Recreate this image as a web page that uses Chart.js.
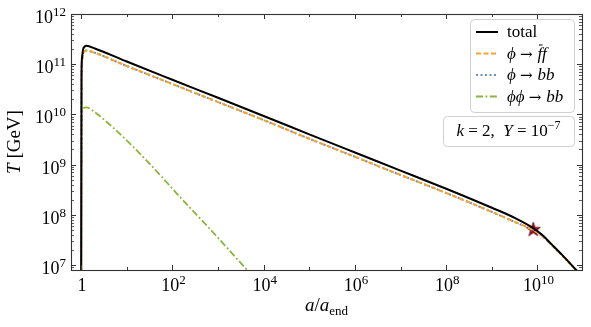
<!DOCTYPE html>
<html>
<head>
<meta charset="utf-8">
<script src="https://cdn.jsdelivr.net/npm/chart.js@4.4.1/dist/chart.umd.min.js"></script>
<style>
  html, body { margin: 0; padding: 0; background: #fff; }
  #wrap { width: 591px; height: 327px; position: relative; }
</style>
</head>
<body>
<div id="wrap"><canvas id="tempChart"></canvas></div>
<script>
// scale factor a/a_end for the main curves
const aMain = [1.0, 1.02, 1.05, 1.1, 1.2, 1.31, 2, 10, 1e2, 1e3, 1e4, 1e5, 1e6, 1e7, 1e8, 1e9, 3.16e9, 7.9e9, 1.26e10, 2e10, 3.55e10, 7.1e10, 1e11];
// T [GeV]
const totalT = [1e6, 6e10, 1.4e11, 1.95e11, 2.25e11, 2.32e11, 2.06e11, 1.13e11, 4.9e10, 2.14e10, 9.3e9, 4.0e9, 1.74e9, 7.6e8, 3.3e8, 1.38e8, 8.7e7, 5.5e7, 4.0e7, 2.63e7, 1.55e7, 7.9e6, 5.75e6];
const phiFFT = [1e6, 5e10, 1.15e11, 1.6e11, 1.84e11, 1.87e11, 1.68e11, 9.2e10, 4.03e10, 1.76e10, 7.7e9, 3.27e9, 1.43e9, 6.2e8, 2.72e8, 1.14e8, 7.2e7, 5.0e7, 3.8e7, 2.55e7, 1.52e7, 7.8e6, 5.7e6];
const phiBBT = [1e6, 5e10, 1.15e11, 1.6e11, 1.84e11, 1.87e11, 1.68e11, 9.2e10, 4.03e10, 1.76e10, 7.7e9, 3.27e9, 1.43e9, 6.2e8, 2.72e8, 1.14e8, 7.2e7, 5.0e7, 3.8e7, 2.55e7, 1.52e7, 7.8e6, 5.7e6];

const aGreen = [1.0, 1.02, 1.05, 1.1, 1.31, 2, 5.25, 28, 148, 794, 3630, 1e4];
const phiPhiT = [1e6, 6e9, 1.1e10, 1.3e10, 1.38e10, 1.1e10, 5.25e9, 1.17e9, 2.24e8, 4.37e7, 9.5e6, 3.5e6];

// marker (end of reheating)
const starA = [8.1e9];
const starT = [5.15e7];

// axis ticks
const xMajorExp = [0, 2, 4, 6, 8, 10];
const xMinorExp = [1, 3, 5, 7, 9];
const yMajorExp = [7, 8, 9, 10, 11, 12];

const SERIF = '"Liberation Serif", "DejaVu Serif", serif';
const ARROWF = '15px "DejaVu Serif", serif';
const cTotal = '#000000';
const cFF = '#f2a431';
const cBB = '#6b8fc6';
const cPP = '#8db43b';
const cFrame = '#333333';
const dashFF = [5, 2.5];
const dashBB = [2, 2.5];
const dashPP = [7, 2.5, 1.8, 2.5];

const pts = (xs, ys) => xs.map((x, i) => ({ x: x, y: ys[i] }));

// filled 5-point star marker
const starImg = document.createElement('canvas');
starImg.width = 16; starImg.height = 16;
(function () {
  const c = starImg.getContext('2d');
  c.beginPath();
  for (let i = 0; i < 10; i++) {
    const r = i % 2 === 0 ? 7.5 : 2.9;
    const ang = -Math.PI / 2 + i * Math.PI / 5;
    c.lineTo(8 + r * Math.cos(ang), 8.5 + r * Math.sin(ang));
  }
  c.closePath();
  c.fillStyle = '#a3101a';
  c.fill();
  c.strokeStyle = '#6a0008';
  c.lineWidth = 0.8;
  c.stroke();
})();

// draw a run of text pieces: [text, font, dy, bar]
function drawRun(ctx, pieces, x, y, align) {
  let total = 0;
  pieces.forEach(p => { ctx.font = p[1]; total += ctx.measureText(p[0]).width; });
  let cx = align === 'right' ? x - total : align === 'center' ? x - total / 2 : x;
  ctx.textAlign = 'left';
  ctx.textBaseline = 'alphabetic';
  pieces.forEach(p => {
    ctx.font = p[1];
    const w = ctx.measureText(p[0]).width;
    ctx.fillText(p[0], cx, y + (p[2] || 0));
    if (p[3]) {
      ctx.beginPath();
      ctx.lineWidth = 1;
      ctx.moveTo(cx + 1.5, y - 13.5);
      ctx.lineTo(cx + w + 0.5, y - 13.5);
      ctx.stroke();
    }
    cx += w;
  });
}

function pow10(exp) {
  if (exp === 0) return [['1', '18px ' + SERIF]];
  return [['10', '18px ' + SERIF], [String(exp).replace('-', '\u2212'), '13px ' + SERIF, -7]];
}

function roundRect(ctx, x, y, w, h, r) {
  ctx.beginPath();
  ctx.moveTo(x + r, y);
  ctx.arcTo(x + w, y, x + w, y + h, r);
  ctx.arcTo(x + w, y + h, x, y + h, r);
  ctx.arcTo(x, y + h, x, y, r);
  ctx.arcTo(x, y, x + w, y, r);
  ctx.closePath();
}

const axesPlugin = {
  id: 'axesPlugin',
  afterDatasetsDraw(chart) {
    const ctx = chart.ctx;
    const area = chart.chartArea;
    const xs = chart.scales.x, ys = chart.scales.y;
    ctx.save();
    ctx.strokeStyle = cFrame;
    ctx.fillStyle = '#000';

    // ticks, pointing inward on all four sides
    const tick = (px, len, horiz) => {
      ctx.beginPath();
      if (horiz) {
        ctx.moveTo(Math.round(px) + 0.5, area.bottom); ctx.lineTo(Math.round(px) + 0.5, area.bottom - len);
        ctx.moveTo(Math.round(px) + 0.5, area.top); ctx.lineTo(Math.round(px) + 0.5, area.top + len);
      } else {
        ctx.moveTo(area.left, Math.round(px) + 0.5); ctx.lineTo(area.left + len, Math.round(px) + 0.5);
        ctx.moveTo(area.right, Math.round(px) + 0.5); ctx.lineTo(area.right - len, Math.round(px) + 0.5);
      }
      ctx.stroke();
    };
    ctx.lineWidth = 1;
    xMajorExp.forEach(e => tick(xs.getPixelForValue(Math.pow(10, e)), 5, true));
    xMinorExp.forEach(e => tick(xs.getPixelForValue(Math.pow(10, e)), 3, true));
    ctx.lineWidth = 0.8;
    for (let e = 6; e <= 12; e++) {
      for (let m = 2; m <= 9; m++) {
        const v = m * Math.pow(10, e);
        if (v > ys.min && v < ys.max) tick(ys.getPixelForValue(v), 3, false);
      }
    }
    ctx.lineWidth = 1;
    yMajorExp.forEach(e => tick(ys.getPixelForValue(Math.pow(10, e)), 5, false));

    // frame
    ctx.lineWidth = 1.1;
    ctx.strokeRect(area.left + 0.5, area.top + 0.5, area.right - area.left, area.bottom - area.top);

    // tick labels
    xMajorExp.forEach(e => drawRun(ctx, pow10(e), xs.getPixelForValue(Math.pow(10, e)) + 1, area.bottom + 21, 'center'));
    yMajorExp.forEach(e => drawRun(ctx, pow10(e), area.left - 5, ys.getPixelForValue(Math.pow(10, e)) + 9, 'right'));

    // axis titles
    drawRun(ctx, [['a', 'italic 19px ' + SERIF], ['/', '19px ' + SERIF], ['a', 'italic 19px ' + SERIF], ['end', '13px ' + SERIF, 4]], (area.left + area.right) / 2, 311, 'center');
    ctx.save();
    ctx.translate(20, (area.top + area.bottom) / 2);
    ctx.rotate(-Math.PI / 2);
    drawRun(ctx, [['T', 'italic 19px ' + SERIF], [' [GeV]', '19px ' + SERIF]], 0, 0, 'center');
    ctx.restore();

    // legend
    const lx = 470, ly = 19, lw = 104, lh = 93;
    roundRect(ctx, lx + 0.5, ly + 0.5, lw, lh, 4);
    ctx.fillStyle = 'rgba(255,255,255,0.85)';
    ctx.fill();
    ctx.strokeStyle = '#d0d0d0';
    ctx.lineWidth = 1;
    ctx.stroke();
    const it = 'italic 17px ' + SERIF;
    const entries = [
      { color: cTotal, dash: [], w: 2, text: [['total', '17px ' + SERIF]] },
      { color: cFF, dash: dashFF, w: 1.8, text: [['\u03d5 ', it], ['\u2192 ', ARROWF], ['f', it, 0, true], ['f', it]] },
      { color: cBB, dash: dashBB, w: 1.8, text: [['\u03d5 ', it], ['\u2192 ', ARROWF], ['bb', it]] },
      { color: cPP, dash: dashPP, w: 1.8, text: [['\u03d5\u03d5 ', it], ['\u2192 ', ARROWF], ['bb', it]] }
    ];
    entries.forEach((en, i) => {
      const yy = 32 + i * 21.5;
      ctx.save();
      ctx.strokeStyle = en.color;
      ctx.lineWidth = en.w;
      ctx.setLineDash(en.dash);
      ctx.beginPath();
      ctx.moveTo(476, yy); ctx.lineTo(498, yy);
      ctx.stroke();
      ctx.restore();
      ctx.fillStyle = '#000';
      ctx.strokeStyle = '#000';
      drawRun(ctx, en.text, 507, yy + 5, 'left');
    });

    // parameter box
    const bx = 443, by = 116, bw = 131, bh = 30;
    roundRect(ctx, bx + 0.5, by + 0.5, bw, bh, 4);
    ctx.fillStyle = 'rgba(255,255,255,0.85)';
    ctx.fill();
    ctx.strokeStyle = '#d0d0d0';
    ctx.stroke();
    ctx.fillStyle = '#000';
    drawRun(ctx, [['k', 'italic 17px ' + SERIF], [' = 2,  ', '17px ' + SERIF], ['Y', 'italic 17px ' + SERIF], [' = 10', '17px ' + SERIF], ['\u22127', '12px ' + SERIF, -7]], bx + bw / 2, by + 20, 'center');
    ctx.restore();
  }
};

const lineDs = (label, xs, ys, color, dash, width) => ({
  label: label,
  data: pts(xs, ys),
  borderColor: color,
  borderWidth: width,
  borderDash: dash,
  pointRadius: 0,
  fill: false,
  cubicInterpolationMode: 'monotone'
});

new Chart(document.getElementById('tempChart'), {
  type: 'line',
  data: {
    datasets: [
      lineDs('total', aMain, totalT, cTotal, [], 2),
      lineDs('phi -> ff', aMain, phiFFT, cFF, dashFF, 2),
      lineDs('phi -> bb', aMain, phiBBT, cBB, dashBB, 2),
      lineDs('phiphi -> bb', aGreen, phiPhiT, cPP, dashPP, 1.8),
      {
        label: 'star',
        data: pts(starA, starT),
        showLine: false,
        pointStyle: starImg,
        pointRadius: 8,
        clip: false
      }
    ]
  },
  options: {
    responsive: true,
    maintainAspectRatio: false,
    animation: false,
    events: [],
    layout: { padding: { left: 71, top: 14, right: 8, bottom: 57 } },
    plugins: { legend: { display: false }, tooltip: { enabled: false } },
    scales: {
      x: { type: 'logarithmic', min: 0.627, max: 9.46e10, display: false },
      y: { type: 'logarithmic', min: 7.94e6, max: 1.0e12, display: false }
    }
  },
  plugins: [axesPlugin]
});
</script>
</body>
</html>
